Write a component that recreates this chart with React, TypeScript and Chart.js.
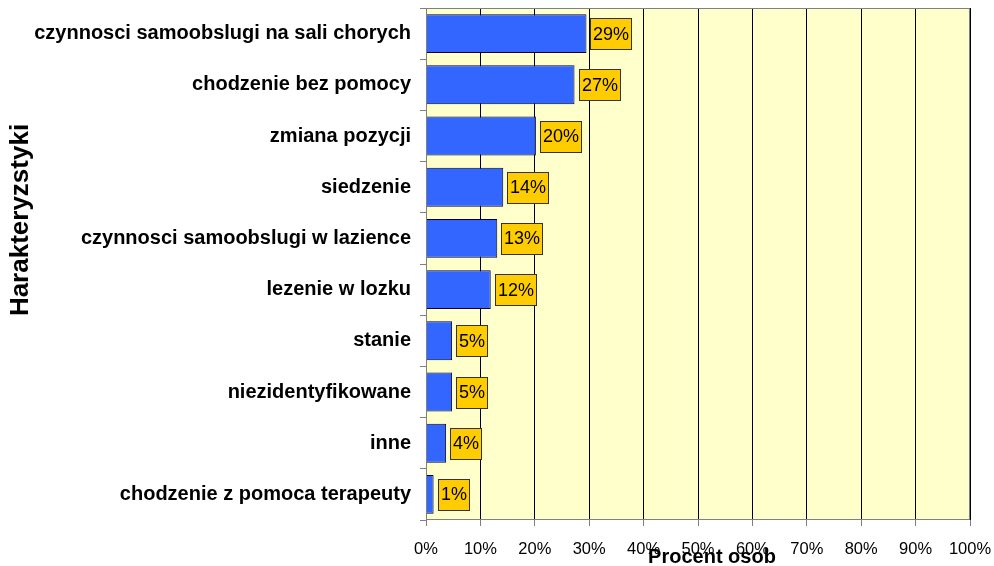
import React, { useEffect, useRef } from "react";
import { Chart, registerables } from "chart.js";

Chart.register(...registerables);

const categories = [
  "czynnosci samoobslugi na sali chorych",
  "chodzenie bez pomocy",
  "zmiana pozycji",
  "siedzenie",
  "czynnosci samoobslugi w lazience",
  "lezenie w lozku",
  "stanie",
  "niezidentyfikowane",
  "inne",
  "chodzenie z pomoca terapeuty",
];
const values = [29.5, 27.3, 20.2, 14.2, 13.1, 11.9, 4.8, 4.8, 3.7, 1.4];
const valueLabels = ["29%", "27%", "20%", "14%", "13%", "12%", "5%", "5%", "4%", "1%"];
const xTitle = "Procent osob";
const yTitle = "Harakteryzstyki";

const FONT = "'Liberation Sans', Arial, sans-serif";

const decorPlugin = {
  id: "decor",
  beforeDraw(chart: any) {
    const { ctx, chartArea } = chart;
    ctx.save();
    ctx.fillStyle = "#FFFFCC";
    ctx.fillRect(chartArea.left, chartArea.top, chartArea.right - chartArea.left, chartArea.bottom - chartArea.top);
    ctx.restore();
  },
  afterDatasetsDraw(chart: any) {
    const { ctx, chartArea } = chart;
    ctx.save();
    ctx.strokeStyle = "#808080";
    ctx.lineWidth = 1;
    ctx.strokeRect(chartArea.left + 0.5, chartArea.top + 0.5, chartArea.right - chartArea.left - 1, chartArea.bottom - chartArea.top - 1);
    const meta = chart.getDatasetMeta(0);
    ctx.font = `18px ${FONT}`;
    ctx.textBaseline = "middle";
    ctx.textAlign = "left";
    meta.data.forEach((bar: any, i: number) => {
      const txt = valueLabels[i];
      const w = Math.round(ctx.measureText(txt).width + 5);
      const h = 31;
      const x = Math.round(bar.x + 4) + 0.5;
      const y = Math.round(bar.y - h / 2) + 0.5;
      ctx.fillStyle = "#FFCC00";
      ctx.fillRect(x, y, w, h);
      ctx.strokeStyle = "#333333";
      ctx.strokeRect(x, y, w, h);
      ctx.fillStyle = "#000";
      ctx.fillText(txt, x + 2.5, bar.y + 1);
    });
    ctx.restore();
  },
  afterDraw(chart: any) {
    const { ctx } = chart;
    ctx.save();
    ctx.fillStyle = "#000";
    ctx.font = `bold 20px ${FONT}`;
    ctx.textAlign = "center";
    ctx.textBaseline = "alphabetic";
    ctx.fillText(xTitle, 712, 563);
    ctx.font = `bold 26px ${FONT}`;
    ctx.textBaseline = "middle";
    ctx.translate(21, 220);
    ctx.rotate(-Math.PI / 2);
    ctx.fillText(yTitle, 0, 0);
    ctx.restore();
  },
};

export default function App() {
  const ref = useRef<HTMLCanvasElement>(null);
  useEffect(() => {
    const chart = new Chart(ref.current!, {
      type: "bar",
      data: {
        labels: categories,
        datasets: [
          {
            data: values,
            backgroundColor: "#3366FF",
            borderColor: "#000033",
            borderWidth: 1,
            barPercentage: 0.76,
            categoryPercentage: 1,
          },
        ],
      },
      options: {
        indexAxis: "y",
        animation: false,
        responsive: false,
        maintainAspectRatio: false,
        layout: { padding: { top: 8, right: 24, left: 0, bottom: 0 } },
        plugins: { legend: { display: false }, tooltip: { enabled: false } },
        scales: {
          x: {
            min: 0,
            max: 100,
            ticks: {
              stepSize: 10,
              color: "#000",
              font: { family: FONT, size: 16.5 },
              padding: 14,
              maxRotation: 0,
              callback: (v: any) => v + "%",
            },
            grid: { color: "#000", tickColor: "#808080", tickLength: 6, lineWidth: 1 },
            border: { display: false },
            afterFit: (s: any) => {
              s.height = 46;
              s.paddingLeft = 0;
              s.paddingRight = 0;
            },
          },
          y: {
            ticks: {
              color: "#000",
              font: { family: FONT, size: 20, weight: "bold" },
              padding: 9,
              autoSkip: false,
            },
            grid: { drawOnChartArea: false, tickColor: "#808080", tickLength: 6, offset: true },
            border: { display: false },
            afterFit: (s: any) => {
              s.width = 426;
              s.paddingTop = 0;
              s.paddingBottom = 0;
            },
          },
        },
      },
      plugins: [decorPlugin],
    });
    return () => chart.destroy();
  }, []);
  return (
    <div style={{ position: "fixed", left: 0, top: 0, width: 994, height: 566, background: "#fff" }}>
      <canvas ref={ref} width={994} height={566} style={{ width: 994, height: 566 }} />
    </div>
  );
}
